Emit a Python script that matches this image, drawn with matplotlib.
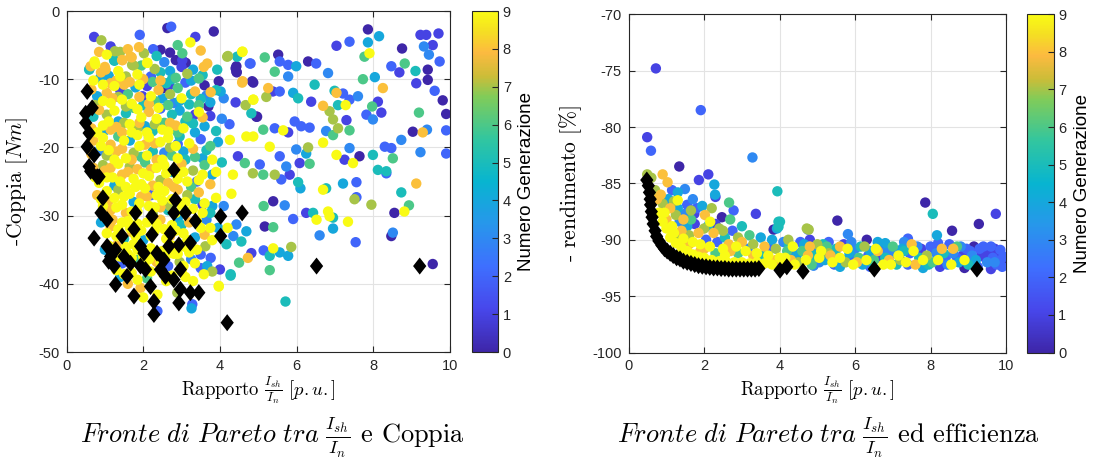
import numpy as np
import matplotlib
matplotlib.use("Agg")
import matplotlib.pyplot as plt
from matplotlib.colors import LinearSegmentedColormap, Normalize
from matplotlib.path import Path

plt.rcParams['mathtext.fontset'] = 'cm'
plt.rcParams['axes.unicode_minus'] = False
plt.rcParams['font.family'] = ['Liberation Sans', 'DejaVu Sans']

# ---------------- data: left panel (Ish/In vs -Coppia) ----------------
left_sparse = [
    (4.21,-6.6,7),(4.59,-5.95,9),(4.43,-8.1,0),(4.43,-8.9,0),(4.78,-7.7,2),(5.17,-6.8,6),(5.52,-6.4,0),
    (5.56,-7.4,2),(5.78,-7.9,2),(5.99,-8.1,4),(5.43,-8.9,6),(5.78,-9.6,3),(6.3,-7.4,0),(6.51,-7.7,2),
    (6.82,-9.1,3),(7.04,-5.1,1),(7.38,-4.5,2),(7.86,-2.7,0),(8.15,-3.7,4),(7.86,-4.6,4),(7.9,-6.2,9),
    (7.77,-6.7,6),(8.75,-5.5,0),(8.82,-7.7,6),(8.47,-8.1,2),(8.68,-9.0,1),(9.1,-8.8,5),(9.23,-3.5,1),
    (9.38,-3.5,1),(9.7,-3.3,1),(9.32,-5.2,3),(9.55,-5.0,1),(9.45,-6.4,3),(9.73,-7.4,2),(9.42,-8.6,0),
    (9.42,-10.1,0),(9.12,-10.6,1),(9.6,-11.7,2),(9.81,-13.1,0),(9.9,-15.1,0),(9.19,-14.9,6),(9.03,-17.7,0),
    (9.4,-17.4,3),(9.29,-17.8,8),(9.9,-17.5,2),(8.73,-18.9,3),(8.3,-19.9,2),(8.47,-20.1,2),(8.51,-21.6,6),
    (7.99,-21.1,5),(8.34,-23.5,5),(9.23,-20.7,3),(9.9,-20.9,2),(8.25,-11.3,8),(8.04,-9.7,4),(7.73,-10.0,6),
    (8.12,-13.3,1),(7.97,-14.0,6),(8.21,-14.9,1),(7.82,-15.2,2),(7.99,-15.9,3),(7.6,-12.5,3),(7.38,-13.0,2),
    (7.28,-13.8,9),(7.08,-13.8,5),(7.04,-12.0,8),(7.21,-12.1,2),(6.99,-11.7,5),(6.69,-13.9,8),(6.86,-14.7,7),
    (6.95,-15.9,7),(7.08,-17.2,7),(7.3,-16.0,1),(6.38,-13.3,1),(6.04,-12.8,5),(5.91,-12.0,4),(6.47,-10.8,5),
    (5.56,-11.8,2),(5.38,-11.8,1),(5.26,-11.3,8),(5.21,-12.6,7),(4.87,-13.0,9),(4.87,-10.5,0),(4.59,-10.3,8),
    (4.95,-15.5,0),(4.82,-15.0,5),(5.95,-16.2,2),(6.12,-16.9,2),(6.34,-17.1,2),(5.65,-17.5,9),(5.78,-17.8,1),
    (5.43,-17.2,2),(5.13,-17.4,6),(4.87,-18.4,9),(4.69,-18.4,9),(5.3,-19.9,9),(5.99,-20.3,3),(6.3,-20.0,7),
    (6.69,-19.3,9),(6.77,-17.6,3),(6.95,-18.2,6),(7.38,-17.5,6),(7.38,-20.1,3),(7.25,-21.8,1),(7.64,-21.3,0),
    (7.47,-22.3,9),(7.04,-21.1,9),(6.25,-20.9,4),(6.08,-22.3,1),(6.34,-22.4,6),(5.56,-21.3,2),(5.73,-22.8,3),
    (4.47,-21.3,1),(4.26,-18.9,9),(5.04,-22.5,2),(4.65,-22.3,6),
    (4.34,-24.0,9),(4.86,-23.8,7),(5.13,-24.0,6),(5.43,-24.0,7),(5.82,-24.0,1),(5.6,-24.7,2),(6.04,-25.1,5),
    (6.1,-26.0,4),(6.69,-26.2,9),(6.77,-26.0,5),(7.21,-25.3,4),(7.56,-25.1,2),(7.51,-27.6,7),(7.56,-27.3,2),
    (7.95,-28.4,7),(9.12,-25.3,8),(8.73,-26.6,5),(8.93,-28.5,6),(8.81,-29.4,9),(8.55,-29.6,0),(8.51,-32.5,3),
    (8.47,-33.0,0),(9.55,-37.1,0),(8.12,-23.3,5),(8.34,-23.8,2),(5.39,-27.9,0),(5.69,-28.5,3),(6.25,-29.6,1),
    (6.43,-29.6,5),(6.52,-30.6,9),(6.82,-29.4,9),(6.86,-30.1,9),(6.95,-30.3,5),(7.34,-30.9,9),(6.95,-31.9,4),
    (6.6,-32.9,3),(7.54,-33.9,2),(5.91,-30.5,2),(5.39,-31.7,6),(5.17,-31.6,0),(5.14,-28.6,6),(4.69,-32.3,4),
    (4.43,-31.3,3),(4.56,-33.8,5),(4.17,-34.2,5),(4.82,-35.5,1),(5.14,-35.1,2),(5.39,-34.8,9),(5.3,-35.9,5),
    (5.56,-35.4,4),(5.78,-35.9,4),(5.86,-34.6,7),(4.73,-36.2,8),(4.5,-36.9,6),(4.28,-38.8,5),(5.3,-38.0,6),
    (5.71,-42.6,5),(3.97,-40.4,9),(3.26,-43.6,4),
]

left_upper = [
    (0.72,-3.8,1),(0.91,-4.3,7),(1.91,-3.5,2),(2.63,-2.5,0),(2.73,-2.3,2),(3.36,-3.8,1),(3.23,-4.6,9),
    (3.84,-3.0,0),(1.15,-5.2,1),(1.26,-5.9,7),(1.89,-5.3,8),(2.02,-6.2,7),(2.26,-5.6,2),(2.45,-5.7,0),
    (2.7,-6.1,0),(3.02,-6.2,6),(3.02,-7.2,1),(3.11,-7.6,0),(0.73,-7.4,9),(0.59,-8.6,5),(0.63,-8.1,8),
    (1.02,-8.6,8),(1.24,-7.2,5),(1.67,-6.7,8),(1.71,-7.9,7),(2.11,-7.6,9),(1.46,-7.2,8),(3.58,-8.2,8),
    (3.67,-7.7,8),(3.93,-8.6,5),(4.19,-6.7,7),(4.45,-6.7,5),(4.58,-6.0,9),(4.8,-7.7,2),(4.41,-8.4,0),
    (4.44,-9.0,0),(4.58,-10.5,8),(4.84,-10.3,0),(3.97,-10.3,0),(3.76,-11.9,8),(4.02,-11.8,4),(4.41,-13.4,1),
    (4.67,-13.8,7),(4.87,-13.0,9),(4.97,-15.5,0),
    (1.98,-12.5,1),(2.54,-11.3,0),(2.68,-10.9,1),(2.85,-7.2,0),(1.4,-11.6,1),(3.35,-15.2,1),(3.7,-14.0,0),
    (2.9,-19.5,2),(1.0,-17.5,4),(3.4,-25.0,2),(3.55,-28.4,1),(2.2,-27.0,2),
]

left_core = [
    (0.6,-8.5,5),(0.75,-7.8,9),(0.9,-9.0,8),(1.0,-8.2,8),(1.1,-9.5,4),(1.25,-7.3,5),(1.35,-8.8,9),(1.45,-7.2,8),
    (1.55,-9.6,7),(1.7,-6.8,8),(1.75,-8.0,7),(1.85,-9.3,9),(1.95,-8.0,6),(2.1,-7.6,9),(2.2,-9.6,2),(2.3,-8.5,7),
    (2.45,-9.0,5),(2.55,-7.5,3),(2.7,-8.8,4),(2.85,-9.8,6),(3.0,-8.2,1),(3.15,-9.2,7),(3.3,-8.6,4),(3.45,-9.9,6),
    (2.0,-10.0,8),(1.3,-10.2,8),
    (0.65,-11.5,8),(0.8,-12.5,4),(0.95,-10.8,9),(1.05,-12.0,8),(1.15,-13.5,9),(1.25,-11.0,9),(1.35,-12.6,7),
    (1.5,-10.8,8),(1.6,-12.2,6),(1.7,-13.6,9),(1.8,-11.2,4),(1.9,-12.6,8),(2.0,-13.8,5),(2.1,-11.0,1),
    (2.2,-12.5,9),(2.3,-13.2,6),(2.4,-11.6,8),(2.5,-12.8,4),(2.6,-10.6,5),(2.7,-12.2,7),(2.8,-13.5,3),
    (2.9,-11.3,6),(3.0,-12.8,9),(3.1,-10.5,2),(3.2,-13.7,5),(3.35,-11.8,8),(3.5,-12.9,5),(3.6,-10.9,0),
    (3.75,-13.4,4),(3.9,-11.6,5),(4.1,-12.8,3),
    (0.7,-15.5,5),(0.85,-14.5,8),(0.95,-16.8,9),(1.05,-15.2,7),(1.15,-17.4,8),(1.25,-14.6,9),(1.35,-16.2,4),
    (1.45,-17.8,8),(1.55,-15.0,5),(1.65,-16.6,9),(1.75,-14.2,6),(1.85,-17.2,7),(1.95,-15.6,9),(2.05,-16.9,4),
    (2.15,-14.8,8),(2.25,-17.6,5),(2.35,-15.8,9),(2.45,-14.3,2),(2.55,-16.4,6),(2.65,-17.7,9),(2.75,-15.2,5),
    (2.85,-16.8,8),(2.95,-14.6,4),(3.05,-17.2,9),(3.15,-15.5,6),(3.3,-16.5,5),(3.45,-14.8,9),(3.6,-16.9,4),
    (3.75,-15.4,1),(3.9,-17.6,5),(4.05,-15.8,3),(4.25,-16.6,2),
    (0.7,-19.0,8),(0.85,-20.5,3),(0.95,-18.6,9),(1.05,-21.2,7),(1.15,-19.6,8),(1.25,-21.8,9),(1.35,-18.4,6),
    (1.45,-20.2,8),(1.55,-21.6,9),(1.65,-19.0,4),(1.75,-20.8,7),(1.85,-18.2,9),(1.95,-21.4,6),(2.05,-19.6,8),
    (2.15,-18.5,9),(2.25,-20.6,5),(2.35,-21.8,8),(2.45,-19.2,9),(2.55,-20.8,3),(2.65,-18.6,9),(2.75,-21.2,6),
    (2.85,-19.8,9),(2.95,-18.4,5),(3.05,-20.6,4),(3.2,-19.4,9),(3.35,-21.4,6),(3.5,-18.8,2),(3.65,-20.4,5),
    (3.8,-21.8,9),(3.95,-19.2,4),
    (0.7,-23.0,8),(0.85,-25.2,9),(0.95,-22.6,7),(1.05,-24.4,9),(1.15,-23.0,8),(1.25,-25.6,4),(1.35,-22.4,9),
    (1.45,-24.0,8),(1.55,-25.8,9),(1.65,-22.8,7),(1.75,-24.6,9),(1.85,-23.2,8),(1.95,-25.4,9),(2.05,-22.2,6),
    (2.15,-24.2,9),(2.25,-25.6,8),(2.35,-23.0,9),(2.45,-24.8,7),(2.55,-22.6,9),(2.65,-25.2,8),(2.75,-23.6,5),
    (2.9,-24.6,9),(3.0,-22.4,8),(3.15,-25.0,9),(3.3,-23.4,7),(3.45,-24.8,9),(3.6,-22.6,6),(3.75,-25.4,8),
    (3.9,-23.6,9),(4.05,-22.2,5),
    (0.8,-27.0,8),(0.95,-28.6,9),(1.05,-26.4,9),(1.15,-29.2,8),(1.25,-27.4,9),(1.35,-26.2,7),(1.45,-28.4,9),
    (1.55,-29.6,8),(1.65,-26.8,9),(1.75,-28.0,4),(1.85,-29.4,9),(1.95,-27.2,8),(2.05,-26.0,9),(2.15,-28.6,9),
    (2.25,-29.8,7),(2.35,-27.0,9),(2.45,-28.8,8),(2.55,-26.4,9),(2.65,-29.2,5),(2.75,-27.6,9),(2.9,-26.2,8),
    (3.0,-28.4,9),(3.15,-27.0,7),(3.3,-29.0,9),(3.45,-26.6,8),(3.6,-28.2,9),(3.75,-29.6,5),(3.9,-27.4,9),
    (4.1,-28.6,3),(4.3,-26.8,9),
    (0.9,-31.0,4),(1.05,-32.6,9),(1.2,-30.6,8),(1.35,-32.0,9),(1.5,-33.4,5),(1.6,-30.8,9),(1.7,-32.4,8),
    (1.85,-31.2,9),(2.0,-33.6,4),(2.1,-31.0,9),(2.3,-32.2,9),(2.45,-30.6,8),(2.6,-33.4,9),(2.75,-31.4,9),
    (2.9,-30.4,4),(3.05,-32.6,9),(3.2,-31.0,8),(3.35,-33.2,4),(3.5,-31.8,9),(3.65,-30.6,3),(3.8,-33.6,9),
    (3.95,-31.8,4),(4.2,-31.8,9),(4.35,-33.0,3),
    (1.0,-35.0,4),(1.15,-36.6,9),(1.3,-34.4,8),(1.45,-37.0,2),(1.6,-35.6,9),(1.75,-34.2,9),(1.9,-36.4,6),
    (2.05,-37.6,9),(2.2,-34.8,9),(2.35,-36.8,8),(2.5,-35.2,9),(2.65,-37.4,2),(2.8,-35.6,9),(2.95,-36.8,7),
    (3.1,-34.6,9),(3.25,-36.4,3),(3.4,-35.0,9),(3.5,-35.7,2),(3.62,-34.5,7),(3.76,-36.2,2),(3.67,-37.4,4),
    (3.8,-38.2,7),(3.5,-37.7,2),
    (1.4,-39.0,4),(1.6,-40.0,8),(1.93,-40.6,8),(2.1,-39.2,6),(2.37,-41.6,9),(2.37,-44.0,2),(2.6,-39.6,9),
    (2.89,-41.3,7),(3.1,-39.0,9),(3.28,-43.0,2),(3.58,-38.6,9),(3.97,-40.3,9),(4.0,-37.9,1),(4.28,-38.6,5),
]

left_core_fill = [
    (0.85,-6.0,8),(1.05,-6.4,9),(1.4,-6.0,7),(1.6,-5.6,8),(2.35,-6.6,5),(2.9,-5.0,6),(3.5,-5.8,8),
    (0.7,-10.2,9),(0.88,-9.8,4),(1.15,-10.6,8),(1.4,-9.6,9),(1.65,-10.4,8),(1.9,-10.8,9),(2.25,-10.4,6),
    (2.45,-10.2,8),(2.75,-10.0,5),(3.25,-10.2,4),(3.55,-9.4,5),
    (0.75,-13.8,7),(0.95,-13.2,9),(1.2,-12.8,8),(1.45,-13.0,9),(1.55,-14.0,7),(1.85,-14.4,9),(2.15,-13.6,8),
    (2.4,-14.2,9),(2.65,-13.8,6),(2.95,-13.2,4),(3.25,-12.2,5),(3.45,-13.8,6),(3.65,-12.4,3),
    (0.65,-17.2,8),(0.8,-17.8,9),(1.1,-16.2,9),(1.3,-17.0,8),(1.5,-16.4,7),(1.7,-17.8,9),(1.9,-16.4,8),
    (2.1,-17.8,9),(2.3,-16.6,7),(2.5,-17.4,9),(2.7,-16.4,8),(2.9,-17.8,6),(3.1,-16.2,5),(3.35,-17.8,4),
    (3.55,-15.6,8),
    (0.65,-21.0,8),(0.9,-19.8,9),(1.1,-20.4,9),(1.3,-20.6,8),(1.5,-19.0,9),(1.7,-21.8,8),(1.9,-19.8,9),
    (2.1,-21.2,9),(2.3,-19.4,8),(2.5,-21.8,9),(2.7,-20.0,7),(2.9,-21.6,9),(3.1,-21.8,5),(3.3,-20.2,8),
    (3.55,-21.6,4),(3.75,-19.8,6),
    (0.75,-24.4,9),(1.0,-23.4,8),(1.2,-24.4,9),(1.4,-25.0,9),(1.6,-23.6,8),(1.8,-25.8,9),(2.0,-23.8,9),
    (2.2,-23.2,8),(2.4,-25.8,9),(2.6,-23.8,9),(2.8,-25.8,8),(3.05,-23.6,9),(3.25,-25.8,6),(3.55,-24.0,9),
    (3.8,-24.0,4),
    (0.9,-27.6,9),(1.1,-27.8,8),(1.3,-28.8,9),(1.5,-27.2,9),(1.7,-29.4,9),(1.9,-28.2,9),(2.1,-27.2,8),
    (2.3,-28.8,9),(2.5,-27.8,9),(2.7,-28.6,7),(2.85,-29.6,9),(3.1,-28.0,9),(3.35,-27.6,5),(3.55,-29.6,9),
    (3.8,-28.6,4),
    (1.0,-30.2,9),(1.15,-31.6,8),(1.3,-33.0,9),(1.45,-31.0,9),(1.65,-31.8,9),(1.8,-33.0,9),(1.95,-32.2,9),
    (2.2,-33.0,9),(2.35,-31.2,9),(2.55,-32.0,9),(2.7,-33.0,8),(2.85,-32.2,9),(3.0,-31.4,5),(3.15,-33.6,9),
    (3.4,-30.8,9),(3.6,-32.8,8),(3.75,-31.8,9),
    (1.1,-34.4,9),(1.25,-35.4,9),(1.4,-36.0,9),(1.55,-34.6,9),(1.7,-36.2,9),(1.85,-35.0,9),(2.0,-36.0,9),
    (2.15,-36.4,9),(2.3,-35.4,9),(2.45,-36.8,9),(2.6,-35.8,9),(2.75,-34.4,9),(2.9,-35.6,9),(3.05,-37.4,9),
    (3.2,-35.4,9),(3.35,-37.0,9),
    (1.3,-38.0,9),(1.5,-38.6,9),(1.7,-38.4,9),(1.85,-39.4,9),(2.2,-38.2,9),(2.5,-38.4,9),(2.75,-38.8,9),
    (3.0,-38.2,9),(3.3,-39.6,9),(2.0,-42.0,9),
]

left_front_x = [0.54,0.5,0.67,0.5,0.59,0.54,0.72,0.59,0.8,0.63,0.85,0.72,0.95,0.9,1.06,1.06,1.15,1.24,1.28,
                1.45,1.5,1.58,1.76,1.8,1.76,1.93,2.02,2.19,2.23,2.23,2.28,2.28,2.36,2.54,2.58,2.71,2.8,2.84,
                2.8,2.93,2.97,2.97,2.93,3.1,3.23,3.23,3.36,3.45,4.02,4.02,4.58,4.19,2.8,1.1,1.28,1.67,1.93,
                2.06,2.45,2.67,6.52,9.21]
left_front_y = [-11.8,-15.0,-14.2,-16.4,-17.9,-19.9,-21.1,-22.8,-24.3,-23.5,-24.3,-33.3,-27.4,-29.6,-30.6,-34.5,
                -36.0,-37.4,-40.1,-33.0,-36.0,-38.9,-41.8,-29.6,-32.0,-37.4,-35.5,-40.4,-30.1,-32.8,-42.6,-44.5,
                -35.5,-36.5,-38.9,-32.6,-29.6,-27.7,-39.4,-34.3,-37.9,-40.8,-42.8,-29.6,-34.0,-41.3,-30.8,-41.3,
                -30.1,-33.0,-29.6,-45.7,-23.3,-36.7,-35.0,-37.0,-34.5,-37.9,-37.9,-34.5,-37.4,-37.4]

# ---------------- data: right panel (Ish/In vs -rendimento) ----------------
right_upper = [
    (0.72,-74.8,1),(1.91,-78.5,2),(0.49,-80.9,1),(0.59,-82.1,2),(3.28,-82.7,3),(1.34,-83.5,0),(2.11,-84.2,1),
    (1.86,-84.7,1),(0.9,-84.2,8),(0.49,-84.2,7),(1.03,-84.9,8),(2.27,-85.1,4),(2.29,-86.0,4),(1.49,-85.5,3),
    (3.94,-85.7,5),(1.3,-86.5,9),(2.66,-86.7,6),(2.78,-87.4,2),(2.47,-88.0,0),(2.69,-88.2,6),(3.37,-87.7,1),
    (3.0,-88.8,5),(3.84,-89.1,0),(3.97,-88.4,5),(3.97,-88.85,5),(4.72,-89.0,7),(4.75,-89.1,2),(4.77,-89.1,7),
    (1.74,-87.7,1),(1.49,-87.7,3),(2.16,-88.4,9),(2.02,-87.8,8),(5.53,-88.3,0),(5.81,-89.5,3),(6.31,-90.0,0),
    (6.8,-90.3,4),(7.4,-89.9,2),(7.86,-86.7,0),(8.06,-87.7,5),(8.17,-89.6,4),(8.57,-89.2,0),(9.28,-88.6,0),
    (9.73,-87.7,1),(4.01,-88.4,5),(3.93,-89.0,4),(4.23,-90.0,7),
]

right_near = [
    (0.85,-86.0,8),(0.9,-86.8,7),(0.95,-87.6,9),(1.0,-88.2,8),(1.05,-86.4,4),(1.1,-87.2,8),(1.15,-88.8,9),
    (1.2,-89.4,9),(1.25,-87.8,7),(1.35,-88.4,3),(1.4,-89.2,8),(1.45,-89.9,9),(1.55,-88.8,4),(1.6,-89.6,7),
    (1.7,-90.2,9),(1.75,-88.6,1),(1.85,-89.4,8),(1.9,-90.4,9),(2.0,-89.0,7),(2.05,-90.0,2),(2.15,-90.6,9),
    (2.25,-89.4,8),(2.35,-90.2,2),(2.4,-89.0,7),(2.5,-90.8,9),(2.55,-89.8,5),(2.65,-90.4,8),(2.75,-89.2,2),
    (2.85,-90.6,9),(2.9,-89.8,7),(3.0,-90.2,8),(3.1,-91.0,9),(3.2,-89.6,6),(3.3,-90.4,7),(3.4,-91.2,9),
    (3.5,-89.8,4),(3.6,-90.6,8),(3.7,-91.4,9),(3.8,-90.0,4),(3.9,-90.8,7),(4.0,-91.6,9),(1.2,-86.6,7),
    (1.3,-85.8,4),(1.55,-86.9,2),(1.65,-87.4,7),(1.7,-86.4,3),(1.95,-87.0,4),(2.2,-87.2,7),(2.3,-86.2,1),
    (0.7,-85.6,7),(0.75,-86.4,8),(0.8,-87.6,9),(0.9,-88.4,9),(1.0,-89.0,9),(1.1,-89.8,9),(1.25,-90.3,9),
    (1.4,-90.7,9),(1.55,-91.0,9),(1.7,-91.3,9),(1.85,-91.5,9),(2.0,-91.6,9),(2.2,-91.8,9),(2.4,-91.9,9),
    (2.6,-92.0,9),(2.8,-92.0,9),(3.0,-92.0,9),(3.2,-92.1,9),(3.4,-92.0,9),(3.6,-92.1,9),(3.8,-92.2,9),
    (4.1,-92.3,9),(4.4,-92.2,9),(0.6,-84.5,7),
    (1.0,-87.0,3),(1.15,-85.6,2),(1.3,-87.2,4),(1.45,-88.2,8),(1.65,-88.2,6),(1.8,-87.2,2),(2.1,-88.8,5),
    (2.3,-88.6,1),(2.5,-89.2,7),(2.7,-91.0,8),(2.9,-91.2,6),(3.15,-90.8,3),(3.3,-91.4,8),(3.55,-91.4,5),
    (3.75,-90.8,2),(3.9,-91.8,8),(2.0,-90.8,8),(2.3,-91.2,6),(2.55,-91.4,9),(1.6,-90.4,8),(1.9,-91.0,8),
    (1.3,-89.6,7),
]

right_band = [
    (4.1,-90.2,3),(4.2,-91.0,6),(4.3,-91.8,8),(4.35,-90.6,9),(4.45,-91.4,4),(4.55,-90.2,2),(4.6,-91.0,6),
    (4.7,-91.8,9),(4.8,-90.6,8),(4.9,-91.4,5),(5.0,-90.4,7),(5.05,-92.0,3),(5.1,-91.0,9),(5.2,-91.8,4),
    (5.25,-90.6,6),(5.35,-91.4,8),(5.45,-92.2,2),(5.5,-90.8,5),(5.6,-91.6,9),(5.7,-90.4,1),(5.75,-92.0,7),
    (5.85,-91.2,4),(5.95,-92.2,9),(6.0,-90.8,3),(6.1,-91.6,6),(6.2,-92.2,4),(6.25,-90.6,7),(6.35,-91.4,2),
    (6.45,-92.0,5),(6.55,-90.8,9),(6.65,-91.6,1),(6.75,-92.2,9),(6.85,-91.0,3),(6.9,-91.8,8),(7.0,-90.6,6),
    (7.1,-92.2,5),(7.15,-91.4,9),(7.25,-90.8,4),(7.35,-92.0,9),(7.45,-91.2,2),(7.5,-90.4,8),(7.6,-92.2,8),
    (7.7,-91.6,5),(7.75,-90.8,1),(7.85,-92.2,3),(7.9,-91.4,7),(8.0,-90.6,2),(8.05,-92.0,6),(8.15,-91.2,3),
    (8.25,-92.4,1),(8.3,-90.8,8),(8.4,-91.6,2),(8.5,-90.4,2),(8.55,-92.2,9),(8.6,-91.2,3),(8.7,-90.6,6),
    (8.75,-92.0,4),(8.85,-91.4,1),(8.95,-90.8,2),(9.0,-92.2,5),(9.1,-91.4,3),(9.15,-90.6,0),(9.25,-92.4,2),
    (9.35,-91.2,1),(9.4,-90.6,2),(9.5,-92.0,3),(9.55,-91.0,1),(9.65,-91.6,2),(9.7,-90.8,1),(9.75,-92.2,2),
    (9.85,-91.8,2),(9.9,-92.2,0),(9.8,-91.3,1),(8.2,-90.3,2),(7.3,-90.2,3),(6.6,-90.2,4),(5.9,-90.2,3),
    (5.3,-90.2,2),(4.8,-90.0,1),(6.4,-92.4,2),(5.6,-92.4,4),(7.8,-92.5,4),(8.9,-92.5,0),(4.9,-92.3,3),
    (9.6,-92.6,1),(9.95,-91.5,2),
    (4.15,-91.6,9),(4.25,-90.4,5),(4.4,-91.2,2),(4.5,-92.0,7),(4.65,-90.4,4),(4.75,-91.4,8),(4.85,-92.2,6),
    (4.95,-90.8,3),(5.05,-91.6,9),(5.15,-90.4,5),(5.3,-91.2,7),(5.4,-92.0,9),(5.5,-91.4,3),(5.6,-90.6,8),
    (5.7,-91.8,4),(5.8,-90.8,9),(5.9,-91.6,2),(6.05,-92.0,8),(6.15,-90.6,5),(6.3,-91.8,9),(6.4,-91.0,4),
    (6.5,-91.8,6),(6.6,-91.0,8),(6.7,-90.6,2),(6.8,-91.6,5),(6.95,-92.2,9),(7.05,-91.2,3),(7.2,-91.8,7),
    (7.3,-91.0,5),(7.4,-92.2,2),(7.55,-91.0,9),(7.65,-90.6,3),(7.8,-91.8,9),(7.95,-92.2,5),(8.1,-90.8,1),
    (8.2,-91.8,9),(8.35,-91.2,5),(8.45,-92.2,3),(8.6,-90.8,8),(8.7,-91.6,2),(8.8,-90.6,3),(8.9,-91.8,9),
    (9.05,-91.0,2),(9.2,-91.8,4),(9.3,-90.8,2),(9.45,-91.6,1),(9.6,-90.6,2),(9.7,-92.0,3),(9.85,-90.9,2),
    (9.9,-92.4,2),
]

right_front_x = [0.48,0.52,0.55,0.57,0.58,0.6,0.62,0.65,0.7,0.74,0.8,0.88,0.95,1.02,1.1,1.18,1.27,1.36,1.45,
                 1.55,1.65,1.75,1.85,1.95,2.05,2.15,2.25,2.35,2.45,2.55,2.65,2.75,2.85,2.95,3.05,3.15,3.25,
                 3.35,3.45,4.01,4.19,4.62,6.51,9.23]
right_front_y = [-84.7,-85.2,-85.8,-86.4,-86.9,-87.5,-88.0,-88.6,-89.2,-89.7,-90.1,-90.5,-90.8,-91.0,-91.2,
                 -91.4,-91.6,-91.7,-91.9,-92.0,-92.1,-92.2,-92.3,-92.35,-92.4,-92.45,-92.5,-92.5,-92.55,-92.55,
                 -92.6,-92.6,-92.6,-92.6,-92.6,-92.6,-92.6,-92.6,-92.55,-92.7,-92.4,-92.8,-92.6,-92.6]

gen_ticks = list(range(10))
x_ticks = [0, 2, 4, 6, 8, 10]
left_yticks = [0, -10, -20, -30, -40, -50]
right_yticks = [-70, -75, -80, -85, -90, -95, -100]

# ---------------- parula-like colormap ----------------
parula = LinearSegmentedColormap.from_list('parula', [
    (0.000, (0.2422, 0.1504, 0.6603)),
    (0.125, (0.2803, 0.2782, 0.9221)),
    (0.250, (0.2440, 0.4358, 0.9988)),
    (0.375, (0.1540, 0.5902, 0.9218)),
    (0.500, (0.0297, 0.7082, 0.8163)),
    (0.625, (0.1938, 0.7758, 0.6251)),
    (0.750, (0.5044, 0.7993, 0.3480)),
    (0.810, (0.8000, 0.7400, 0.2200)),
    (0.880, (0.9900, 0.7300, 0.2500)),
    (0.940, (0.9600, 0.8700, 0.1400)),
    (1.000, (0.9769, 0.9839, 0.0805)),
])
norm = Normalize(0, 9)

diamond = Path([(0, 1), (0.78, 0), (0, -1), (-0.78, 0), (0, 1)],
               [Path.MOVETO, Path.LINETO, Path.LINETO, Path.LINETO, Path.CLOSEPOLY])

W, H = 1094, 461
fig = plt.figure(figsize=(W / 100, H / 100), dpi=100)

def fx(px):
    return px / W

def fy(py):
    return 1 - py / H

axL = fig.add_axes([fx(66.5), fy(352), fx(450) - fx(66.5), fy(11) - fy(352)])
cbL = fig.add_axes([fx(471.5), fy(352), fx(498) - fx(471.5), fy(11) - fy(352)])
axR = fig.add_axes([fx(628.7), fy(352.5), fx(1006) - fx(628.7), fy(14.3) - fy(352.5)])
cbR = fig.add_axes([fx(1027), fy(352.5), fx(1053.5) - fx(1027), fy(14.3) - fy(352.5)])

def draw(ax, pts, fxs, fys):
    arr = np.array(pts, dtype=float)
    order = np.argsort(arr[:, 2], kind='stable')
    arr = arr[order]
    sc = ax.scatter(arr[:, 0], arr[:, 1], c=arr[:, 2], cmap=parula, norm=norm,
                    s=56, edgecolors='none', zorder=3)
    ax.scatter(fxs, fys, marker=diamond, s=150, c='black', edgecolors='none', zorder=4)
    return sc

scL = draw(axL, left_sparse + left_upper + left_core + left_core_fill, left_front_x, left_front_y)
scR = draw(axR, right_upper + right_near + right_band, right_front_x, right_front_y)

tickfont = dict(family=['Liberation Sans', 'DejaVu Sans'], size=10.5)
for ax, yt, ylim in [(axL, left_yticks, (-50, 0)), (axR, right_yticks, (-100, -70))]:
    ax.set_xlim(0, 10)
    ax.set_ylim(*ylim)
    ax.set_xticks(x_ticks)
    ax.set_yticks(yt)
    ax.set_xticklabels([str(v) for v in x_ticks], **tickfont)
    ax.set_yticklabels([str(v) for v in yt], **tickfont)
    ax.grid(True, color='#e3e3e3', linewidth=0.8, zorder=0)
    ax.set_axisbelow(True)
    ax.tick_params(direction='in', length=4, width=0.8, top=True, right=True, colors='#262626',
                   labelcolor='#262626', pad=5)
    for sp in ax.spines.values():
        sp.set_color('#262626')
        sp.set_linewidth(0.8)
    ax.set_xlabel(r'Rapporto $\frac{I_{sh}}{I_n}\ [p.u.]$', fontsize=13.5, family='cmr10', labelpad=1)

axL.set_ylabel(r'-Coppia $[Nm]$', fontsize=15.5, family='cmr10', labelpad=6)
axR.set_ylabel(r'- rendimento $[\%]$', fontsize=15.5, family='cmr10', labelpad=6)

for cax, sc in [(cbL, scL), (cbR, scR)]:
    cb = fig.colorbar(sc, cax=cax, ticks=gen_ticks)
    cb.outline.set_edgecolor('#262626')
    cb.outline.set_linewidth(0.8)
    cax.tick_params(direction='in', length=4, width=0.8, colors='#262626', labelsize=10.5)
    cax.set_yticklabels([str(v) for v in gen_ticks], family=['Liberation Sans', 'DejaVu Sans'])
    cb.set_label('Numero Generazione', fontsize=13.5, family=['Liberation Sans', 'DejaVu Sans'],
                 labelpad=5)

fig.text(fx(272), fy(437), r'$\mathit{Fronte\ di\ Pareto\ tra}\ \frac{I_{sh}}{I_n}$ e Coppia',
         ha='center', va='center', fontsize=19, family='cmr10')
fig.text(fx(828), fy(437), r'$\mathit{Fronte\ di\ Pareto\ tra}\ \frac{I_{sh}}{I_n}$ ed efficienza',
         ha='center', va='center', fontsize=19, family='cmr10')

fig.savefig('out.png', dpi=100)
